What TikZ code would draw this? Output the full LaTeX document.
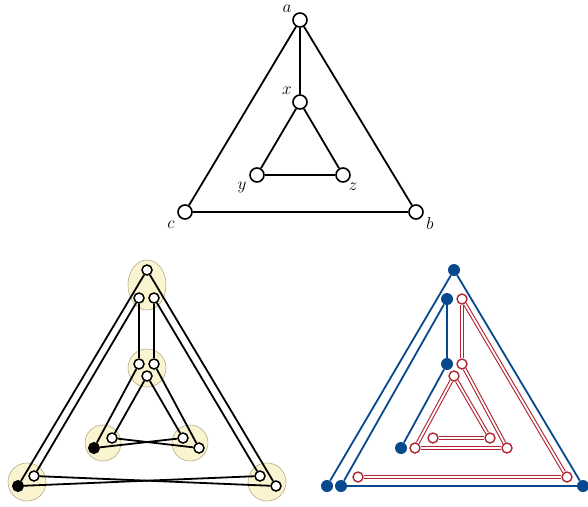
\documentclass[tikz,border=0pt]{standalone}
\usepackage{tikz}
\definecolor{bluec}{RGB}{8,72,140}
\definecolor{redc}{RGB}{178,38,50}
\definecolor{clfill}{RGB}{250,244,208}
\definecolor{clborder}{RGB}{180,172,140}
\tikzset{
  bigv/.style={circle,draw=black,fill=white,line width=1.6pt,minimum size=14pt,inner sep=0pt},
  smv/.style={circle,draw=black,fill=white,line width=1.5pt,minimum size=10pt,inner sep=0pt},
  smf/.style={circle,draw=black,fill=black,line width=1pt,minimum size=11pt,inner sep=0pt},
  bluev/.style={circle,fill=bluec,draw=none,minimum size=12pt,inner sep=0pt},
  redv/.style={circle,draw=redc,fill=white,line width=1.4pt,minimum size=10pt,inner sep=0pt},
  edge/.style={line width=1.8pt,draw=black},
  bedge/.style={line width=1.8pt,draw=bluec},
  redge/.style={draw=redc,line width=1.1pt,double=white,double distance=1.8pt},
  lab/.style={font=\fontsize{18}{20}\selectfont,inner sep=0pt},
  cluster/.style={fill=clfill,draw=clborder,line width=0.6pt},
}
\begin{document}
\begin{tikzpicture}[x=1pt,y=-1pt]
\useasboundingbox (0,0) rectangle (588,506);
% ---------- top graph ----------
\node[bigv] (a) at (300,20) {};
\node[bigv] (x) at (300,102) {};
\node[bigv] (y) at (257,175) {};
\node[bigv] (z) at (343,175) {};
\node[bigv] (c) at (185,212) {};
\node[bigv] (b) at (416,212) {};
\node[lab] (la) at (287,9) {$a$};
\node[lab] (lx) at (287,91) {$x$};
\node[lab] (ly) at (242,187) {$y$};
\node[lab] (lz) at (353,187) {$z$};
\node[lab] (lc) at (171,225) {$c$};
\node[lab] (lb) at (430,223) {$b$};
\draw[edge] (a) -- (x);
\draw[edge] (a) -- (b);
\draw[edge] (a) -- (c);
\draw[edge] (c) -- (b);
\draw[edge] (x) -- (y);
\draw[edge] (x) -- (z);
\draw[edge] (y) -- (z);
% ---------- bottom left ----------
\draw[cluster] (147,285) ellipse (19 and 25);
\draw[cluster] (147,368) ellipse (19 and 19);
\draw[cluster] (103,443) circle (18);
\draw[cluster] (190,443) circle (18);
\draw[cluster] (27,482) circle (19);
\draw[cluster] (267,482) circle (19);
\node[smv] (A0) at (147,270) {};
\node[smv] (A1) at (139,298) {};
\node[smv] (A2) at (154,298) {};
\node[smv] (X1) at (139,364) {};
\node[smv] (X2) at (154,364) {};
\node[smv] (X0) at (147,376) {};
\node[smv] (Y1) at (112,438) {};
\node[smf] (Yf) at (94,448) {};
\node[smv] (Z1) at (183,438) {};
\node[smv] (Z2) at (199,448) {};
\node[smv] (C1) at (34,476) {};
\node[smf] (Cf) at (18,486) {};
\node[smv] (B1) at (260,476) {};
\node[smv] (B2) at (276,486) {};
\draw[edge] (A0) -- (Cf);
\draw[edge] (A1) -- (C1);
\draw[edge] (A0) -- (B2);
\draw[edge] (A2) -- (B1);
\draw[edge] (A1) -- (X1);
\draw[edge] (A2) -- (X2);
\draw[edge] (X1) -- (Yf);
\draw[edge] (X0) -- (Y1);
\draw[edge] (X0) -- (Z1);
\draw[edge] (X2) -- (Z2);
\draw[edge] (Y1) -- (Z2);
\draw[edge] (Yf) -- (Z1);
\draw[edge] (C1) -- (B2);
\draw[edge] (Cf) -- (B1);
% ---------- bottom right ----------
\node[bluev] (P0) at (454,270) {};
\node[bluev] (P1) at (447,299) {};
\node[bluev] (P2) at (447,364) {};
\node[bluev] (P3) at (401,448) {};
\node[bluev] (P4) at (327,486) {};
\node[bluev] (P5) at (341,486) {};
\node[bluev] (P6) at (583,486) {};
\draw[bedge] (P0) -- (P4);
\draw[bedge] (P0) -- (P6);
\draw[bedge] (P5) -- (P6);
\draw[bedge] (P1) -- (P5);
\draw[bedge] (P1) -- (P2);
\draw[bedge] (P2) -- (P3);
\node[redv] (R1) at (462,299) {};
\node[redv] (R2) at (462,364) {};
\node[redv] (R3) at (454,376) {};
\node[redv] (R4) at (433,438) {};
\node[redv] (R5) at (490,438) {};
\node[redv] (R6) at (415,448) {};
\node[redv] (R7) at (507,448) {};
\node[redv] (R8) at (358,477) {};
\node[redv] (R9) at (567,477) {};
\draw[redge] (R1) -- (R2);
\draw[redge] (R1) -- (R9);
\draw[redge] (R8) -- (R9);
\draw[redge] (R2) -- (R7);
\draw[redge] (R6) -- (R7);
\draw[redge] (R3) -- (R6);
\draw[redge] (R3) -- (R5);
\draw[redge] (R4) -- (R5);
\end{tikzpicture}
\end{document}
